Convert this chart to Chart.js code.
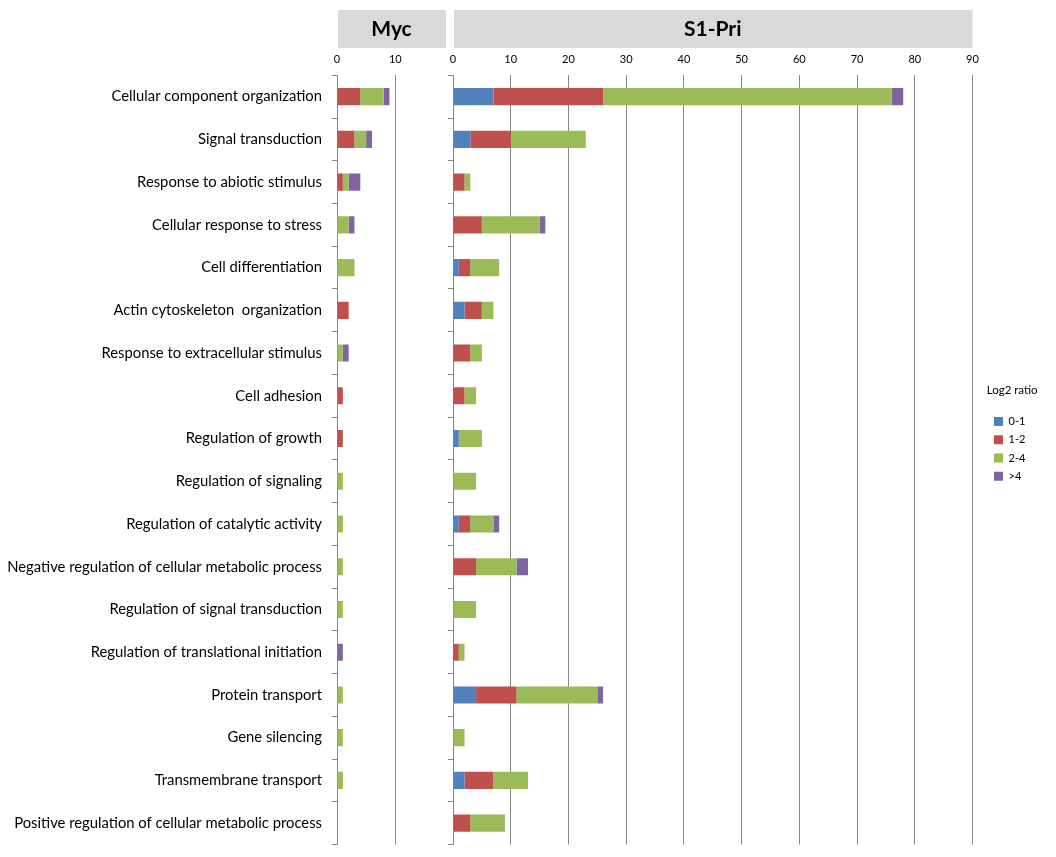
<!DOCTYPE html>
<html>
<head>
<meta charset="utf-8">
<script src="https://cdn.jsdelivr.net/npm/chart.js@4/dist/chart.umd.min.js"></script>
<style>
  html, body { margin: 0; padding: 0; background: #ffffff; }
  #wrap { position: relative; width: 1056px; height: 857px; }
  #wrap canvas { position: absolute; left: 0; top: 0; }
</style>
</head>
<body>
<div id="wrap">
  <canvas id="cMyc" width="1056" height="857"></canvas>
  <canvas id="cPri" width="1056" height="857"></canvas>
</div>
<script>
// ---------------- data ----------------
const categories = [
  'Cellular component organization',
  'Signal transduction',
  'Response to abiotic stimulus',
  'Cellular response to stress',
  'Cell differentiation',
  'Actin cytoskeleton  organization',
  'Response to extracellular stimulus',
  'Cell adhesion',
  'Regulation of growth',
  'Regulation of signaling',
  'Regulation of catalytic activity',
  'Negative regulation of cellular metabolic process',
  'Regulation of signal transduction',
  'Regulation of translational initiation',
  'Protein transport',
  'Gene silencing',
  'Transmembrane transport',
  'Positive regulation of cellular metabolic process'
];
const seriesNames = ['0-1', '1-2', '2-4', '>4'];
const panelTitles = ['Myc', 'S1-Pri'];
const legendTitle = 'Log2 ratio';

const myc_0_1 = [0,0,0,0,0,0,0,0,0,0,0,0,0,0,0,0,0,0];
const myc_1_2 = [4,3,1,0,0,2,0,1,1,0,0,0,0,0,0,0,0,0];
const myc_2_4 = [4,2,1,2,3,0,1,0,0,1,1,1,1,0,1,1,1,0];
const myc_gt4 = [1,1,2,1,0,0,1,0,0,0,0,0,0,1,0,0,0,0];

const pri_0_1 = [7,3,0,0,1,2,0,0,1,0,1,0,0,0,4,0,2,0];
const pri_1_2 = [19,7,2,5,2,3,3,2,0,0,2,4,0,1,7,0,5,3];
const pri_2_4 = [50,13,1,10,5,2,2,2,4,4,4,7,4,1,14,2,6,6];
const pri_gt4 = [2,0,0,1,0,0,0,0,0,0,1,2,0,0,1,0,0,0];

const mycTicks = [0, 10];
const priTicks = [0, 10, 20, 30, 40, 50, 60, 70, 80, 90];

// ---------------- styles ----------------
const COLORS = ['#4f81bd', '#c0504d', '#9bbb59', '#8064a2'];
const GRID = '#868686';
const FONT = 'Lato, "Open Sans", sans-serif';

const headerBox = {
  id: 'headerBox',
  beforeDraw(chart) {
    const ca = chart.chartArea;
    const ctx = chart.ctx;
    ctx.save();
    ctx.fillStyle = '#d9d9d9';
    ctx.fillRect(ca.left + 1, 10, ca.right - ca.left - 1, 38);
    ctx.restore();
  }
};

// keeps the legend box wide enough for its title
const legendWidth = {
  id: 'legendWidth',
  afterInit(chart) {
    const lg = chart.legend;
    if (!lg) return;
    const origFit = lg.fit;
    lg.fit = function () { origFit.call(this); this.width = 62; };
  }
};

function makeDatasets(arrs) {
  return arrs.map((d, i) => ({
    label: seriesNames[i],
    data: d,
    backgroundColor: COLORS[i],
    borderWidth: 0,
    barPercentage: 0.4,
    categoryPercentage: 1.0
  }));
}

function baseOptions(title, ticksList, maxVal, showLabels, yWidth, padRight, legendOpts) {
  return {
    indexAxis: 'y',
    responsive: false,
    animation: false,
    devicePixelRatio: 1,
    layout: { autoPadding: false, padding: { left: 0, right: padRight, top: 0, bottom: 12.5 } },
    plugins: {
      legend: legendOpts,
      tooltip: { enabled: false },
      title: {
        display: true,
        fullSize: false,
        text: title,
        color: '#000000',
        font: { family: FONT, size: 21, weight: 'bold', lineHeight: 1.2 },
        padding: { top: 16.4, bottom: 1.5 }
      }
    },
    scales: {
      x: {
        position: 'top',
        stacked: true,
        min: 0,
        max: maxVal,
        afterBuildTicks: (s) => { s.ticks = ticksList.map(v => ({ value: v })); },
        grid: { color: GRID, lineWidth: 1, drawTicks: false },
        border: { display: false },
        ticks: { color: '#000000', font: { family: FONT, size: 11 }, padding: 9.5, maxRotation: 0 }
      },
      y: {
        stacked: true,
        afterFit: (s) => { s.width = yWidth; s.paddingTop = 0; s.paddingBottom = 0; },
        grid: { color: GRID, drawOnChartArea: false, drawTicks: true, tickLength: 5, offset: true },
        border: { display: true, color: GRID, width: 1 },
        ticks: { display: showLabels, color: '#000000', font: { family: FONT, size: 14.8 }, padding: 10, autoSkip: false }
      }
    }
  };
}

new Chart(document.getElementById('cMyc'), {
  type: 'bar',
  data: { labels: categories, datasets: makeDatasets([myc_0_1, myc_1_2, myc_2_4, myc_gt4]) },
  options: baseOptions(panelTitles[0], mycTicks, 18.7, true, 337, 610, { display: false }),
  plugins: [headerBox]
});

const priOpts = baseOptions(panelTitles[1], priTicks, 90, false, 453, 7.3, {
  display: true,
  position: 'right',
  align: 'center',
  title: { display: true, text: legendTitle, position: 'start', color: '#000000', font: { family: FONT, size: 11.5 }, padding: { top: 29.6, bottom: 9.8 } },
  labels: { boxWidth: 9, boxHeight: 9, padding: 7.3, color: '#000000', font: { family: FONT, size: 11 } }
});
priOpts.scales.gap = {
  type: 'linear',
  position: 'right',
  display: true,
  grid: { display: false },
  border: { display: false },
  ticks: { display: false },
  afterFit: (s) => { s.width = 14.2; s.paddingTop = 0; s.paddingBottom = 0; }
};

new Chart(document.getElementById('cPri'), {
  type: 'bar',
  data: { labels: categories, datasets: makeDatasets([pri_0_1, pri_1_2, pri_2_4, pri_gt4]) },
  options: priOpts,
  plugins: [headerBox, legendWidth]
});
</script>
</body>
</html>
